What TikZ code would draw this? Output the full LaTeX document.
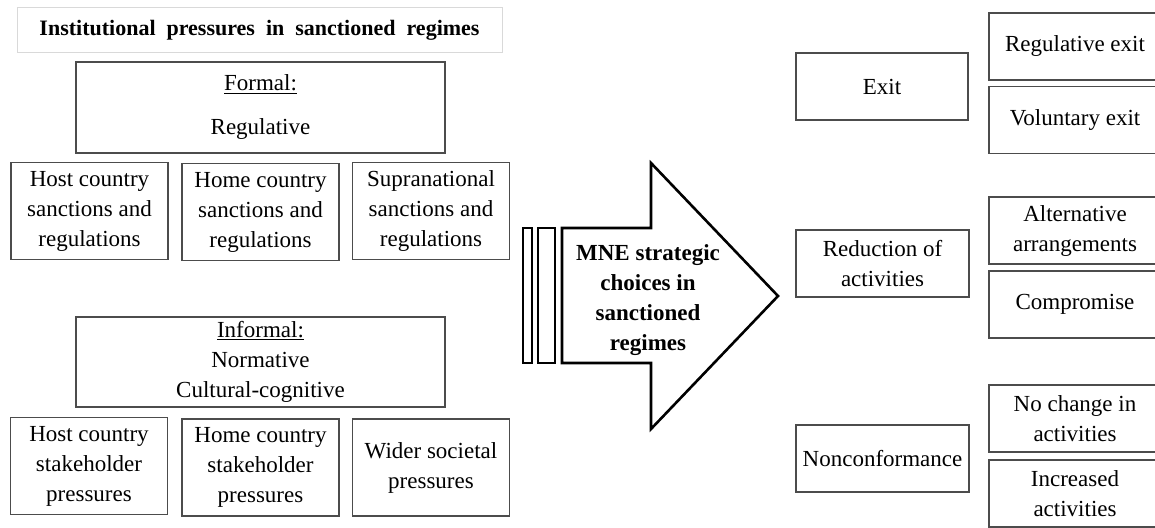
\documentclass[tikz,border=0pt]{standalone}
\usepackage{fontspec}
\setmainfont{Liberation Serif}
\usetikzlibrary{arrows.meta}
\usetikzlibrary{calc}

\begin{document}
\begin{tikzpicture}[x=1pt,y=-1pt,
    every node/.style={black,align=center,inner sep=0pt,font=\fontsize{23}{30}\selectfont},
    pbox/.style={draw=black!70,line width=1.1pt},
    wbox/.style={pbox,minimum width=157pt,minimum height=97pt},
    cbox/.style={pbox,minimum width=172pt,minimum height=67pt}]
    \useasboundingbox (0,0) rectangle (1155,527);

    % left: pressures
    \node[draw=black!15,line width=1pt,minimum width=485pt,minimum height=45pt,
        font=\fontsize{22}{26}\selectfont\bfseries] (title) at (259.5,30.5)
        {Institutional\ \ pressures\ \ in\ \ sanctioned\ \ regimes};

    \node[pbox,minimum width=369pt,minimum height=91pt] (formal) at (260.5,107.5)
        {\underline{Formal:}\\[14pt]Regulative};
    \node[wbox] (hostsanc) at (89.5,211) {Host country\\sanctions and\\regulations};
    \node[wbox] (homesanc) at (260.5,212) {Home country\\sanctions and\\regulations};
    \node[wbox] (suprasanc) at (431,211) {Supranational\\sanctions and\\regulations};

    \node[pbox,minimum width=369pt,minimum height=90pt] (informal) at (260.5,362)
        {\underline{Informal:}\\Normative\\Cultural-cognitive};
    \node[wbox] (hoststake) at (89,466) {Host country\\stakeholder\\pressures};
    \node[wbox] (homestake) at (260.5,467.5) {Home country\\stakeholder\\pressures};
    \node[wbox] (wider) at (431,467.5) {Wider societal\\pressures};

    % middle: arrow
    \draw[line width=2.6pt] (523,228) rectangle (532,363);
    \draw[line width=2.6pt] (538,228) rectangle (555,363);
    \draw[line width=2.6pt,line join=miter]
    (562,228)
    -- (651,228)
    -- (651,163)
    -- (778,296)
    -- (651,429)
    -- (651,363)
    -- (562,363) -- cycle;
    \node[font=\fontsize{23}{30}\selectfont\bfseries] (choices) at (648,300)
        {MNE strategic\\choices in\\sanctioned\\regimes};

    % right: choices
    \node[pbox,minimum width=172pt,minimum height=67pt] (exit) at (882,86.5) {Exit};
    \node[pbox,minimum width=173pt,minimum height=67pt] (reduction) at (882.5,263.5) {Reduction of\\activities};
    \node[pbox,minimum width=173pt,minimum height=67pt] (noncon) at (882.5,458.5) {Nonconformance};

    \node[cbox] (regexit) at (1075,46.5) {Regulative exit};
    \node[cbox] (volexit) at (1075,120) {Voluntary exit};
    \node[cbox] (altarr) at (1075,230.5) {Alternative\\arrangements};
    \node[cbox] (compromise) at (1075,304.5) {Compromise};
    \node[cbox] (nochange) at (1075,418.5) {No change in\\activities};
    \node[cbox] (increased) at (1075,493.5) {Increased\\activities};
\end{tikzpicture}
\end{document}
